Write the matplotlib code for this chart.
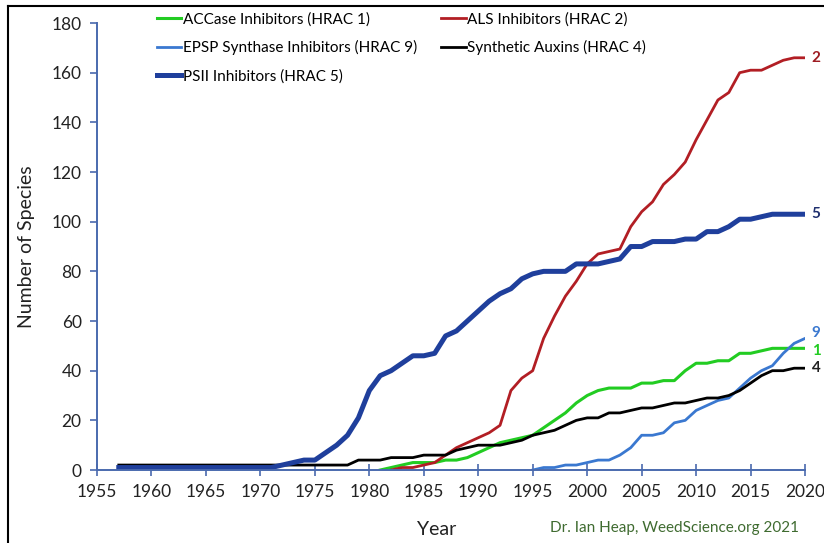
import matplotlib
matplotlib.use('Agg')
import matplotlib.pyplot as plt
from matplotlib.lines import Line2D

plt.rcParams['font.family'] = ['Lato', 'DejaVu Sans']

# ACCase Inhibitors (HRAC 1)
years_1 = list(range(1981, 2021))
accase = [0, 1, 2, 3, 3, 3, 4, 4, 5, 7, 9, 11, 12, 13, 14, 17, 20, 23, 27, 30,
          32, 33, 33, 33, 35, 35, 36, 36, 40, 43, 43, 44, 44, 47, 47, 48, 49, 49, 49, 49]

# ALS Inhibitors (HRAC 2)
years_2 = list(range(1982, 2021))
als = [0, 1, 1, 2, 3, 6, 9, 11, 13, 15, 18, 32, 37, 40, 53, 62, 70, 76, 83, 87,
       88, 89, 98, 104, 108, 115, 119, 124, 133, 141, 149, 152, 160, 161, 161, 163, 165, 166, 166]

# EPSP Synthase Inhibitors (HRAC 9)
years_9 = list(range(1995, 2021))
epsp = [0, 1, 1, 2, 2, 3, 4, 4, 6, 9, 14, 14, 15, 19, 20, 24, 26, 28, 29, 33,
        37, 40, 42, 47, 51, 53]

# Synthetic Auxins (HRAC 4)
years_4 = list(range(1957, 2021))
auxins = [2] * 22 + [4, 4, 4, 5, 5, 5, 6, 6, 6, 8, 9, 10, 10, 10, 11, 12, 14, 15,
                     16, 18, 20, 21, 21, 23, 23, 24, 25, 25, 26, 27, 27, 28, 29, 29,
                     30, 32, 35, 38, 40, 40, 41, 41]

# PSII Inhibitors (HRAC 5)
years_5 = list(range(1957, 2021))
psii = [1] * 15 + [2, 3, 4, 4, 7, 10, 14, 21, 32, 38, 40, 43, 46, 46, 47, 54, 56,
                   60, 64, 68, 71, 73, 77, 79, 80, 80, 80, 83, 83, 83, 84, 85, 90,
                   90, 92, 92, 92, 93, 93, 96, 96, 98, 101, 101, 102, 103, 103, 103, 103]

fig = plt.figure(figsize=(8.24, 5.43), dpi=100)
ax = fig.add_axes([0.1177, 0.1344, 0.8593, 0.8232])

l1, = ax.plot(years_1, accase, color='#22cc22', lw=2.2, label='ACCase Inhibitors (HRAC 1)')
l2, = ax.plot(years_2, als, color='#b21e24', lw=2.0, label='ALS Inhibitors (HRAC 2)')
l9, = ax.plot(years_9, epsp, color='#3a78d0', lw=2.0, label='EPSP Synthase Inhibitors (HRAC 9)')
l4, = ax.plot(years_4, auxins, color='black', lw=2.0, label='Synthetic Auxins (HRAC 4)')
l5, = ax.plot(years_5, psii, color='#1f3f9c', lw=3.6, label='PSII Inhibitors (HRAC 5)')

ends = [(years_2, als, '2', '#9e1c22', 0),
        (years_5, psii, '5', '#1f2f6e', 0),
        (years_9, epsp, '9', '#3a78d0', 2),
        (years_1, accase, '1', '#22cc22', -1),
        (years_4, auxins, '4', '#222222', 0)]
for xs, ys, lab, col, dy in ends:
    ax.text(xs[-1] + 0.6, ys[-1] + dy, lab, color=col, fontsize=11,
            fontweight='bold', va='center', ha='left', clip_on=False)

ax.set_xlim(1955, 2020)
ax.set_ylim(0, 180)
ax.set_xticks(range(1955, 2021, 5))
ax.set_yticks(range(0, 181, 20))
ax.tick_params(axis='both', labelsize=12.5, colors='#4a6aae', labelcolor='#222222',
               length=5, width=1.2, pad=6)
ax.tick_params(axis='x', direction='inout', length=8)
for s in ['top', 'right']:
    ax.spines[s].set_visible(False)
for s in ['left', 'bottom']:
    ax.spines[s].set_color('#4a6aae')
    ax.spines[s].set_linewidth(1.4)

ax.set_xlabel('Year', fontsize=14, color='#222222')
ax.xaxis.set_label_coords(0.48, -0.115)
ax.set_ylabel('Number of Species', fontsize=14, color='#222222', labelpad=12)

ax.legend(handles=[l1, l9, l5, l2, l4], loc='upper left', bbox_to_anchor=(0.065, 1.055),
          ncol=2, frameon=False, fontsize=11, handlelength=1.6, handletextpad=0.1,
          columnspacing=1.6, labelspacing=0.9)

fig.text(0.97, 0.028, 'Dr. Ian Heap, WeedScience.org 2021', color='#3f6b30',
         fontsize=11, ha='right', va='center')

# outer frame lines
fig.add_artist(Line2D([8 / 824, 8 / 824], [0, 1 - 6 / 543], color='black', lw=1.5,
                      transform=fig.transFigure))
fig.add_artist(Line2D([8 / 824, 1], [1 - 6 / 543, 1 - 6 / 543], color='black', lw=1.5,
                      transform=fig.transFigure))

fig.savefig('out.png', dpi=100)
